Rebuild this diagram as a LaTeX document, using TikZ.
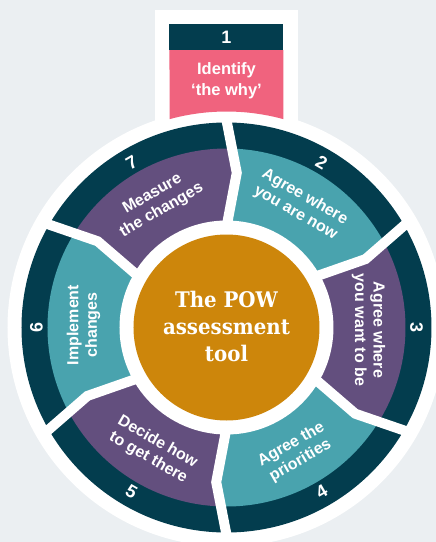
\documentclass[tikz,border=0pt]{standalone}
\usepackage{fontspec}
\setmainfont{Liberation Sans}
\newfontfamily\slabfont[FakeStretch=0.92]{DejaVu Serif}
\definecolor{bgc}{HTML}{EBEFF2}
\definecolor{darkc}{HTML}{033D4E}
\definecolor{tealc}{HTML}{49A3AE}
\definecolor{purpc}{HTML}{634F7E}
\definecolor{orangec}{HTML}{CD860B}
\definecolor{pinkc}{HTML}{F0637E}
\begin{document}
\begin{tikzpicture}[x=1pt,y=1pt,
  lbl/.style={text=white, font=\bfseries\fontsize{16}{18.5}\selectfont, align=center, inner sep=0pt},
  num/.style={text=white, font=\bfseries\fontsize{18}{18}\selectfont, inner sep=0pt},
  gapline/.style={white, line width=10pt, line join=miter}]
\fill[bgc] (-226.5,-214.5) rectangle (209.5,327.5);
\useasboundingbox (-226.5,-214.5) rectangle (209.5,327.5);
% white base
\fill[white] (0,0) circle (219pt);
\fill[white] (-71.5,317.5) rectangle (71.5,170);
% step 1 box
\fill[darkc] (-57,303.5) rectangle (57,277.5);
\fill[pinkc] (-57,277.5) -- (57,277.5) -- (74.7:216pt) arc[start angle=74.7,end angle=105.3,radius=216pt] -- cycle;
\node[num] (n1) at (0,290.5) {1};
\node[lbl, font=\bfseries\fontsize{16.5}{21}\selectfont] (t1) at (0,246.5) {Identify\\‘the why’};
% ring segments
\foreach \b/\col in {30/tealc,-30/purpc,-90/tealc,-150/purpc,-210/tealc,-270/purpc}{
  \pgfmathsetmacro\a{\b+60}
  \begin{scope}
    \clip (0,0) -- (\b+1.2:90pt) -- (\b-3.8:155pt) -- (\b:212pt) -- (\b+1.2:240pt) -- (\b+30:250pt) -- (\a+1.2:240pt) -- (\a:212pt) -- (\a-3.8:155pt) -- (\a+1.2:90pt) -- cycle;
    \fill[darkc] (0,0) circle (205pt);
    \fill[\col] (0,0) circle (179pt);
  \end{scope}
}
% gaps
\foreach \t in {90,30,-30,-90,-150,-210}{
  \draw[gapline] (\t+0.5:96pt) -- (\t-3.8:155pt) -- (\t+0.3:213pt);
}
% centre
\fill[white] (0,0) circle (107pt);
\fill[orangec] (0,0) circle (93pt);
\node[text=white, align=center, inner sep=0pt, font=\slabfont\bfseries\fontsize{21.5}{27}\selectfont] (title) at (0,1) {The POW\\assessment\\tool};
% labels
\node[lbl, rotate=-30] (t2) at (59:143pt) {Agree where\\you are now};
\node[lbl, rotate=-90] (t3) at (-1:142pt) {Agree where\\you want to be};
\node[lbl, rotate=30] (t4) at (-61:143pt) {Agree the\\priorities};
\node[lbl, rotate=-30] (t5) at (-121:143pt) {Decide how\\to get there};
\node[lbl, rotate=90] (t6) at (179:143pt) {Implement\\changes};
\node[lbl, rotate=30] (t7) at (119:143pt) {Measure\\the changes};
% numbers
\node[num, rotate=-30] (n2) at (60:190pt) {2};
\node[num, rotate=-90] (n3) at (0:190pt) {3};
\node[num, rotate=30] (n4) at (-60:190pt) {4};
\node[num, rotate=-30] (n5) at (-120:190pt) {5};
\node[num, rotate=90] (n6) at (180:190pt) {6};
\node[num, rotate=30] (n7) at (120:190pt) {7};
\end{tikzpicture}
\end{document}
